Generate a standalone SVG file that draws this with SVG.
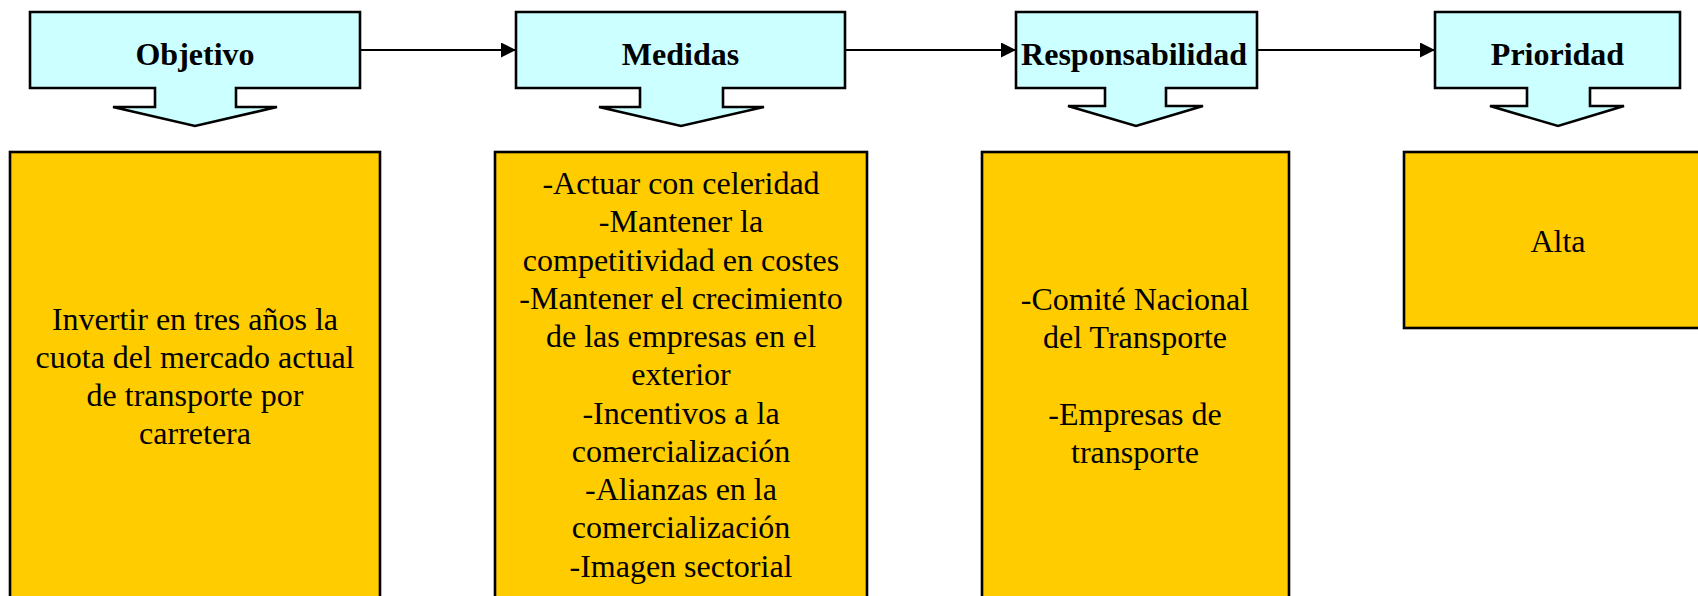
<svg xmlns="http://www.w3.org/2000/svg" width="1698" height="596" viewBox="0 0 1698 596">
<defs>
<style>
.hdr{fill:#CCFFFF;stroke:#000;stroke-width:2.6;stroke-linejoin:miter}
.box{fill:#FFCC00;stroke:#000;stroke-width:2.6}
.ht{font-family:"Liberation Serif","Times New Roman",serif;font-weight:bold;font-size:32px;fill:#000;text-anchor:middle}
.bt{font-family:"Liberation Serif","Times New Roman",serif;font-size:32px;fill:#000;text-anchor:middle}
.con{stroke:#000;stroke-width:2.2;fill:none}
</style>
<marker id="ah" markerWidth="15" markerHeight="15" refX="15" refY="7.5" orient="auto" markerUnits="userSpaceOnUse">
<path d="M0,0 L15,7.5 L0,15 z" fill="#000"/>
</marker>
</defs>
<rect width="1698" height="596" fill="#fff"/>
<g id="connectors">
<line class="con" x1="360" y1="50" x2="516" y2="50" marker-end="url(#ah)"/>
<line class="con" x1="845" y1="50" x2="1016" y2="50" marker-end="url(#ah)"/>
<line class="con" x1="1257" y1="50" x2="1435" y2="50" marker-end="url(#ah)"/>
</g>
<g id="objetivo">
<polygon class="hdr" points="30,12 360,12 360,88 236,88 236,107 277,107 195,126 113,107 155,107 155,88 30,88"/>
<text class="ht" x="195" y="65">Objetivo</text>
</g>
<g id="medidas">
<polygon class="hdr" points="516,12 845,12 845,88 723,88 723,107 764,107 681,126 599,107 640,107 640,88 516,88"/>
<text class="ht" x="680.5" y="65">Medidas</text>
</g>
<g id="responsabilidad">
<polygon class="hdr" points="1016,12 1257,12 1257,88 1166,88 1166,106 1203,106 1136,126 1068,106 1105,106 1105,88 1016,88"/>
<text class="ht" x="1134" y="65">Responsabilidad</text>
</g>
<g id="prioridad">
<polygon class="hdr" points="1435,12 1680,12 1680,88 1590,88 1590,106 1624,106 1558,126 1490,106 1527,106 1527,88 1435,88"/>
<text class="ht" x="1557.5" y="65">Prioridad</text>
</g>
<g id="objetivo-detalle">
<rect class="box" x="10" y="152" width="370" height="470"/>
<text class="bt" x="195" y="330">Invertir en tres años la</text>
<text class="bt" x="195" y="368">cuota del mercado actual</text>
<text class="bt" x="195" y="406">de transporte por</text>
<text class="bt" x="195" y="444">carretera</text>
</g>
<g id="medidas-detalle">
<rect class="box" x="495" y="152" width="372" height="470"/>
<text class="bt" x="681" y="194">-Actuar con celeridad</text>
<text class="bt" x="681" y="232.3">-Mantener la</text>
<text class="bt" x="681" y="270.5">competitividad en costes</text>
<text class="bt" x="681" y="308.8">-Mantener el crecimiento</text>
<text class="bt" x="681" y="347">de las empresas en el</text>
<text class="bt" x="681" y="385.3">exterior</text>
<text class="bt" x="681" y="423.5">-Incentivos a la</text>
<text class="bt" x="681" y="461.8">comercialización</text>
<text class="bt" x="681" y="500">-Alianzas en la</text>
<text class="bt" x="681" y="538.3">comercialización</text>
<text class="bt" x="681" y="576.5">-Imagen sectorial</text>
</g>
<g id="responsabilidad-detalle">
<rect class="box" x="982" y="152" width="307" height="470"/>
<text class="bt" x="1135" y="310">-Comité Nacional</text>
<text class="bt" x="1135" y="348.3">del Transporte</text>
<text class="bt" x="1135" y="425">-Empresas de</text>
<text class="bt" x="1135" y="463.3">transporte</text>
</g>
<g id="prioridad-detalle">
<rect class="box" x="1404" y="152" width="310" height="176"/>
<text class="bt" x="1558" y="252">Alta</text>
</g>
</svg>
